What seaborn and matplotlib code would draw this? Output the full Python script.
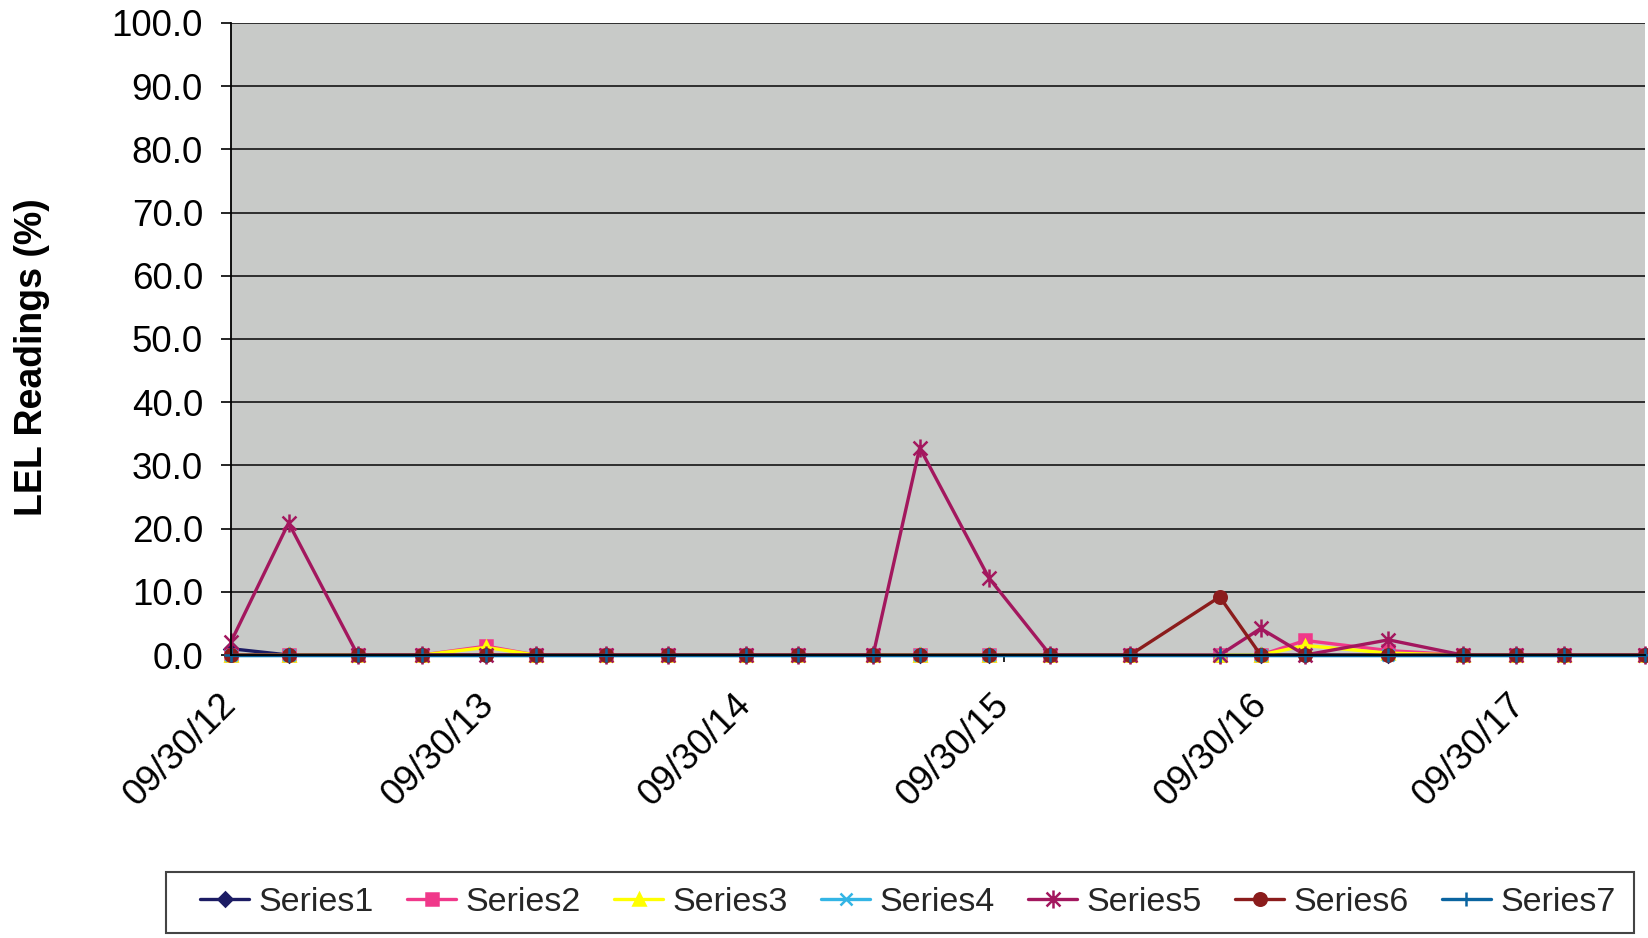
import matplotlib
matplotlib.use('Agg')
import numpy as np
import pandas as pd
import seaborn as sns
import matplotlib.pyplot as plt
import matplotlib.dates as mdates
from matplotlib.path import Path
from matplotlib.patches import Rectangle
from matplotlib.ticker import FormatStrFormatter

sns.set_theme(style="white")
plt.rcParams['font.family'] = ['Liberation Sans', 'DejaVu Sans']

# sampling dates
dates = ['2012-09-30', '2012-12-21', '2013-03-29', '2013-06-28', '2013-09-27',
         '2013-12-06', '2014-03-15', '2014-06-11', '2014-09-30', '2014-12-12',
         '2015-03-29', '2015-06-03', '2015-09-09', '2015-12-05', '2016-03-27',
         '2016-08-01', '2016-09-28', '2016-11-30', '2017-03-28', '2017-07-11',
         '2017-09-24', '2017-12-02', '2018-03-26']

series1 = [1.0, 0, 0, 0, 0, 0, 0, 0, 0, 0, 0, 0, 0, 0, 0, 0, 0, 0, 0, 0, 0, 0, 0]
series2 = [0, 0, 0, 0, 1.4, 0, 0, 0, 0, 0, 0, 0, 0, 0, 0, 0, 0, 2.3, 0.7, 0, 0, 0, 0]
series3 = [0, 0, 0, 0, 1.2, 0, 0, 0, 0, 0, 0, 0, 0, 0, 0, 0, 0, 1.5, 0.3, 0, 0, 0, 0]
series4 = [0, 0, 0, 0, 0, 0, 0, 0, 0, 0, 0, 0, 0, 0, 0, 0, 0, 0, 0, 0, 0, 0, 0]
series5 = [2.0, 20.9, 0, 0, 0, 0, 0, 0, 0, 0, 0, 32.8, 12.2, 0, 0, 0, 4.2, 0, 2.4, 0, 0, 0, 0]
series6 = [0, 0, 0, 0, 0, 0, 0, 0, 0, 0, 0, 0, 0, 0, 0, 9.2, 0, 0, 0, 0, 0, 0, 0]
series7 = [0, 0, 0, 0, 0, 0, 0, 0, 0, 0, 0, 0, 0, 0, 0, 0, 0, 0, 0, 0, 0, 0, 0]

series_names = ['Series1', 'Series2', 'Series3', 'Series4', 'Series5', 'Series6', 'Series7']
tick_dates = ['2012-09-30', '2013-09-30', '2014-09-30', '2015-09-30', '2016-09-30', '2017-09-30']
tick_labels = ['09/30/12', '09/30/13', '09/30/14', '09/30/15', '09/30/16', '09/30/17']

df = pd.DataFrame({'date': pd.to_datetime(dates),
                   'Series1': series1, 'Series2': series2, 'Series3': series3,
                   'Series4': series4, 'Series5': series5, 'Series6': series6,
                   'Series7': series7})
long_df = df.melt(id_vars='date', var_name='series', value_name='lel')

# excel style "star" marker: an x with a vertical bar
star = Path([(-1, -1), (1, 1), (-1, 1), (1, -1), (0, -1.3), (0, 1.3)],
            [Path.MOVETO, Path.LINETO] * 3)

colors = {'Series1': '#1c1c64', 'Series2': '#f0388a', 'Series3': '#ffff00',
          'Series4': '#33b5e5', 'Series5': '#a3175e', 'Series6': '#8b1c1c',
          'Series7': '#0a64a0'}
markers = {'Series1': 'D', 'Series2': 's', 'Series3': '^', 'Series4': 'x',
           'Series5': star, 'Series6': 'o', 'Series7': '+'}
msizes = {'Series1': 7, 'Series2': 9, 'Series3': 9, 'Series4': 9,
          'Series5': 13, 'Series6': 9, 'Series7': 10}

fig, ax = plt.subplots(figsize=(16.48, 9.38), dpi=100)
fig.subplots_adjust(left=0.140, right=0.998, top=0.9755, bottom=0.3017)
ax.set_facecolor('#c8cac8')

for name in series_names:
    sub = long_df[long_df['series'] == name]
    sns.lineplot(data=sub, x='date', y='lel', ax=ax, color=colors[name],
                 marker=markers[name], markersize=msizes[name],
                 markeredgecolor=colors[name], markerfacecolor=colors[name],
                 markeredgewidth=1.8, linewidth=2.4, label=name, clip_on=False)

ax.set_ylim(0, 100)
ax.set_xlim(df['date'].iloc[0], df['date'].iloc[-1])
ax.set_yticks(np.arange(0, 101, 10))
ax.yaxis.set_major_formatter(FormatStrFormatter('%.1f'))
ax.set_xticks(mdates.date2num(pd.to_datetime(tick_dates)))
ax.set_xticklabels(tick_labels, rotation=45, ha='right', va='center',
                   rotation_mode='anchor')
ax.set_xlabel('')

ax.yaxis.grid(True, color='#222222', linewidth=1.3)
ax.xaxis.grid(False)
ax.set_axisbelow(True)

for side in ['top', 'right']:
    ax.spines[side].set_visible(False)
for side in ['left', 'bottom']:
    ax.spines[side].set_color('black')
    ax.spines[side].set_linewidth(1.3)

ax.tick_params(axis='y', which='major', left=True, length=7, width=1.2,
               color='black', pad=13, labelsize=26.5, labelcolor='black')
ax.tick_params(axis='x', which='major', bottom=True, length=5, width=1.2,
               color='black', pad=27, labelsize=26.5, labelcolor='black')

ax.set_ylabel('LEL Readings (%)', fontsize=27, fontweight='bold', color='black')
ax.yaxis.set_label_coords(-0.128, 0.4715)

# legend box drawn separately so the entries can sit further in from the frame
fig.patches.append(Rectangle((0.1007, 0.0053), 0.8908, 0.065,
                             transform=fig.transFigure, facecolor='white',
                             edgecolor='#444444', linewidth=1.5, zorder=-1))

handles, labels = ax.get_legend_handles_labels()
leg = ax.legend(handles, labels, loc='center', mode='expand',
                bbox_to_anchor=(0.1214, 0.0053, 0.8592, 0.065),
                bbox_transform=fig.transFigure, ncol=7, frameon=False,
                fontsize=24.5, handlelength=1.45, handletextpad=0.28,
                borderpad=0, borderaxespad=0)

plt.savefig('out.png', dpi=100, facecolor='white')
